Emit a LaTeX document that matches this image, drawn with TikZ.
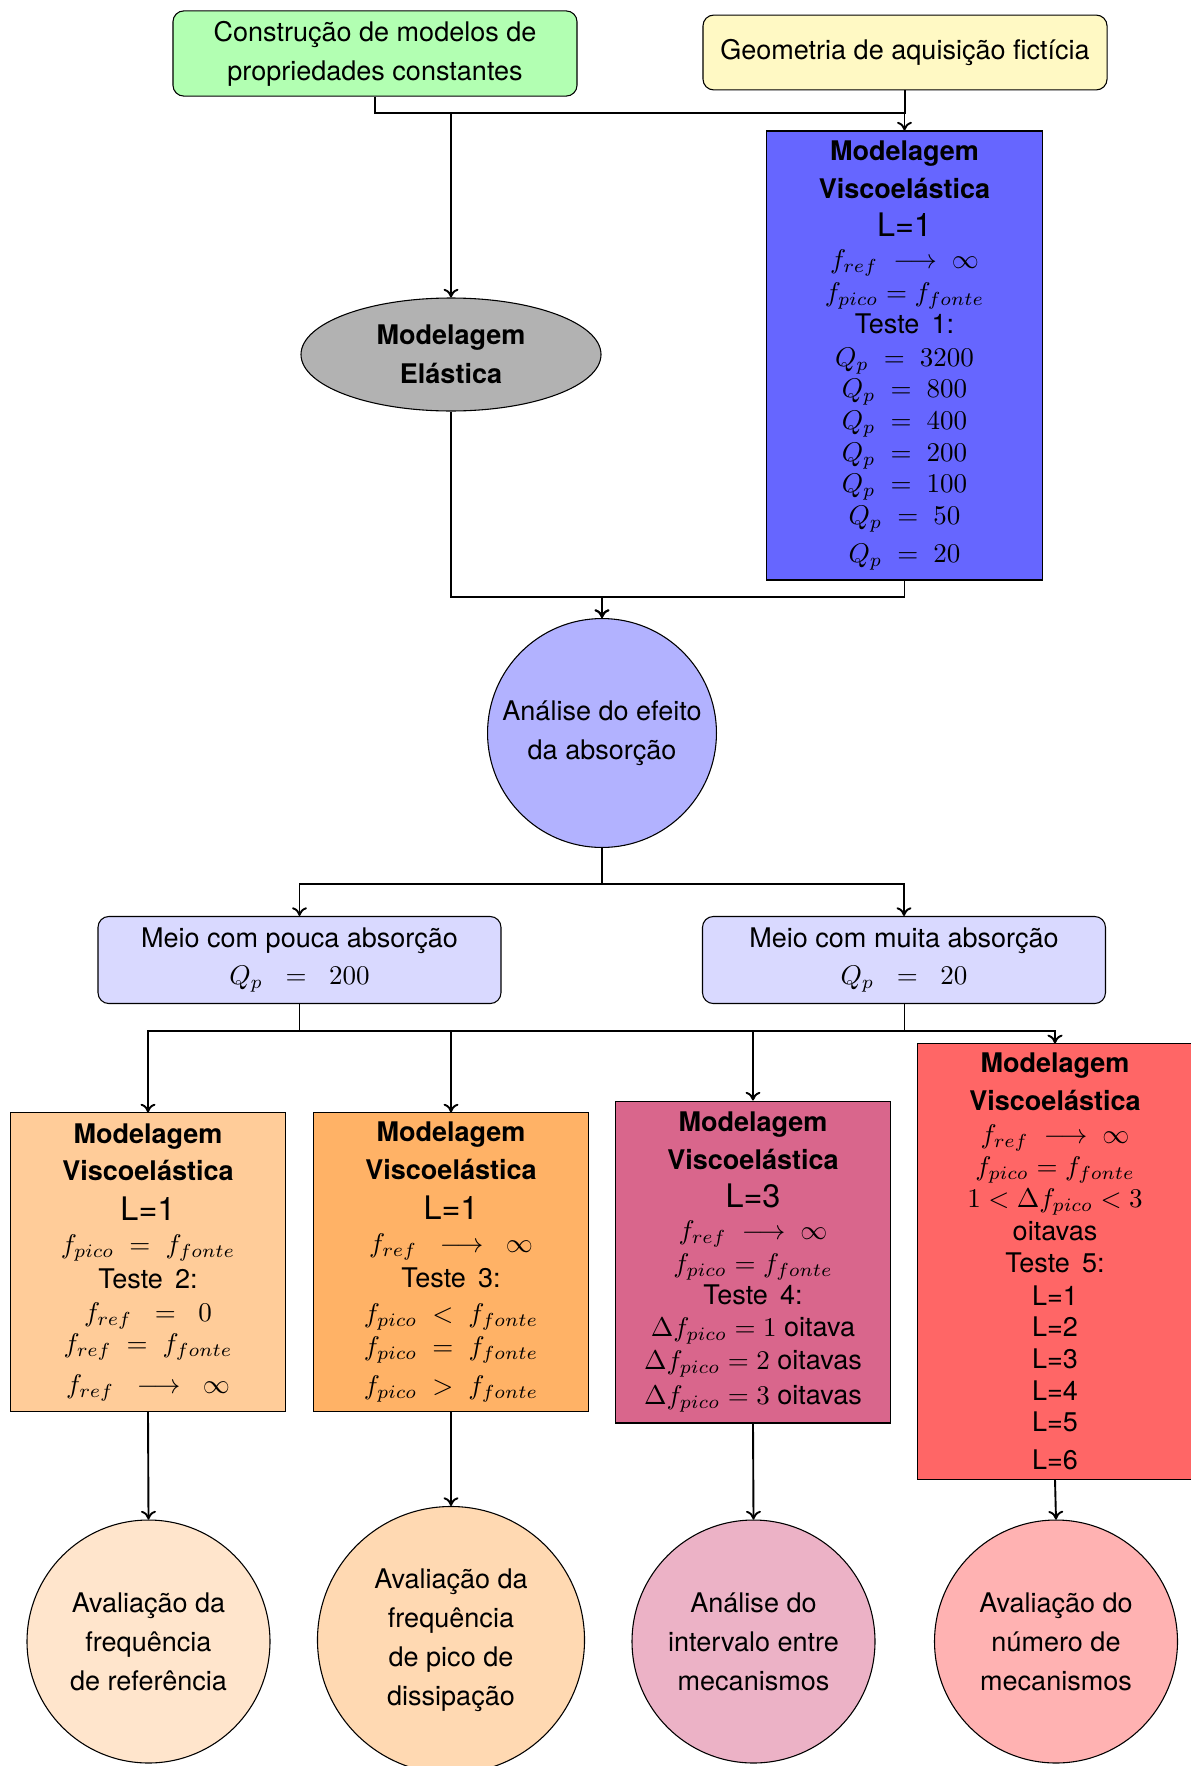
\documentclass[tikz,border=0pt]{standalone}
\usepackage[no-math]{fontspec}
\setmainfont{TeX Gyre Heros}
\usetikzlibrary{shapes.geometric,arrows.meta}
\definecolor{cream}{RGB}{255,249,196}
\begin{document}
\begin{tikzpicture}[x=0.37pt, y=-0.37pt,
  base/.style={draw, line width=0.4pt, align=center, inner sep=1pt,
    font=\fontsize{10}{12}\selectfont},
  rbox/.style={base, rounded corners=4pt},
  sbox/.style={base, minimum width=102pt},
  rnd/.style={base, circle, font=\fontsize{10}{14.4}\selectfont, inner sep=0pt},
  conn/.style={line width=0.7pt, -{To[length=3.2pt,width=5.5pt]}},
  thinconn/.style={line width=0.3pt, -{To[length=3.2pt,width=5.5pt]}}]
\useasboundingbox (0,0) rectangle (1190,1766);

% top row
\node[rbox, fill=green!30, minimum width=149.5pt, minimum height=31.5pt] (constr) at (375,53.5)
  {Construção de modelos de\\[2.5pt]propriedades constantes};
\node[rbox, fill=cream, minimum width=149.5pt, minimum height=27.7pt] (geom) at (905,52.5)
  {Geometria de aquisição fictícia};

% first viscoelastic model
\node[sbox, fill=blue!60, minimum height=166.1pt] (visc1) at (904.5,355.5)
  {\textbf{Modelagem}\\[2pt]\textbf{Viscoelástica}\\[2pt]{\large L=1}\\
   $f_{ref}\;\longrightarrow\;\infty$\\
   $f_{pico} = f_{fonte}$\\
   Teste\hspace{0.45em}1:\\
   $Q_p\;=\;3200$\\[-0.3pt]
   $Q_p\;=\;800$\\[-0.3pt]
   $Q_p\;=\;400$\\[-0.3pt]
   $Q_p\;=\;200$\\[-0.3pt]
   $Q_p\;=\;100$\\[-0.3pt]
   $Q_p\;=\;50$\\[2pt]
   $Q_p\;=\;20$};

% elastic model
\node[base, ellipse, fill=gray!60, minimum width=111pt, minimum height=41.8pt, inner sep=0pt,
  font=\fontsize{10}{14.5}\selectfont\bfseries] (elast) at (451,354.5)
  {Modelagem\\Elástica};

% analysis
\node[rnd, fill=blue!30, minimum size=84.7pt] (analise) at (602,733)
  {Análise do efeito\\da absorção};

% media
\node[rbox, fill=blue!15, minimum width=149.1pt, minimum height=32.2pt] (pouca) at (299.5,960)
  {Meio com pouca absorção\\[2pt]$Q_p\;\;=\;\;200$};
\node[rbox, fill=blue!15, minimum width=149.1pt, minimum height=32.2pt] (muita) at (904,960)
  {Meio com muita absorção\\[2pt]$Q_p\;\;=\;\;20$};

% tests
\node[sbox, fill=orange!40, minimum height=110.3pt] (t2) at (148,1262)
  {\textbf{Modelagem}\\[2pt]\textbf{Viscoelástica}\\[2.7pt]{\large L=1}\\[0.3pt]
   $f_{pico}\;=\;f_{fonte}$\\[1pt]
   Teste\hspace{0.45em}2:\\[0pt]
   $f_{ref}\;\;=\;\;0$\\[-0.5pt]
   $f_{ref}\;=\;f_{fonte}$\\[3pt]
   $f_{ref}\;\;\longrightarrow\;\;\infty$};
\node[sbox, fill=orange!60, minimum height=110.3pt] (t3) at (451,1262)
  {\textbf{Modelagem}\\[2pt]\textbf{Viscoelástica}\\[2.7pt]{\large L=1}\\[0.3pt]
   $f_{ref}\;\;\longrightarrow\;\;\infty$\\[1pt]
   Teste\hspace{0.45em}3:\\[1pt]
   $f_{pico}\;<\;f_{fonte}$\\
   $f_{pico}\;=\;f_{fonte}$\\[2.5pt]
   $f_{pico}\;>\;f_{fonte}$};
\node[sbox, fill=purple!60, minimum height=119.1pt] (t4) at (753,1262)
  {\textbf{Modelagem}\\[2pt]\textbf{Viscoelástica}\\[2pt]{\large L=3}\\[0pt]
   $f_{ref}\;\longrightarrow\;\infty$\\
   $f_{pico} = f_{fonte}$\\
   Teste\hspace{0.45em}4:\\
   $\Delta f_{pico} = 1$ oitava\\
   $\Delta f_{pico} = 2$ oitavas\\[1pt]
   $\Delta f_{pico} = 3$ oitavas};
\node[sbox, fill=red!60, minimum height=161pt] (t5) at (1055,1261.5)
  {\textbf{Modelagem}\\[2pt]\textbf{Viscoelástica}\\
   $f_{ref}\;\longrightarrow\;\infty$\\
   $f_{pico} = f_{fonte}$\\
   $1 < \Delta f_{pico} < 3$\\
   oitavas\\
   Teste\hspace{0.45em}5:\\
   L=1\\[-0.3pt] L=2\\[-0.3pt] L=3\\[-0.3pt] L=4\\[-0.3pt] L=5\\[2pt] L=6};

% results
\node[rnd, fill=orange!20, minimum size=89.9pt] (r1) at (148.5,1641.5)
  {Avaliação da\\frequência\\de referência};
\node[rnd, fill=orange!30, minimum size=98.8pt] (r2) at (451,1640)
  {Avaliação da\\frequência\\de pico de\\dissipação};
\node[rnd, fill=purple!30, minimum size=89.9pt] (r3) at (753.5,1641.5)
  {Análise do\\intervalo entre\\mecanismos};
\node[rnd, fill=red!30, minimum size=89.9pt] (r4) at (1056,1641.5)
  {Avaliação do\\número de\\mecanismos};

% junction levels
\coordinate (j0) at (0,113);
\coordinate (j1) at (0,597);
\coordinate (j2) at (0,884);
\coordinate (j3) at (0,1031);

% connectors
\draw[conn] (constr.south) -- (constr.south |- j0) -| (visc1.north);
\draw[conn] (geom.south) -- (geom.south |- j0) -| (elast.north);
\draw[conn] (elast.south) -- (elast.south |- j1) -| (analise.north);
\draw[conn] (visc1.south) -- (visc1.south |- j1) -| (analise.north);
\draw[conn] (analise.south) -- (analise.south |- j2) -| (pouca.north);
\draw[conn] (analise.south) -- (analise.south |- j2) -| (muita.north);
\draw[thinconn] (muita.south) -- (muita.south |- j3) -| (t5.north);
\draw[conn] (pouca.south) -- (pouca.south |- j3) -| (t2.north);
\draw[conn] (pouca.south) -- (pouca.south |- j3) -| (t3.north);
\draw[conn] (pouca.south) -- (pouca.south |- j3) -| (t4.north);
\draw[conn] (pouca.south) -- (pouca.south |- j3) -| (t5.north);
\draw[conn] (t2.south) -- (r1.north);
\draw[conn] (t3.south) -- (r2.north);
\draw[conn] (t4.south) -- (r3.north);
\draw[conn] (t5.south) -- (r4.north);
\end{tikzpicture}
\end{document}
